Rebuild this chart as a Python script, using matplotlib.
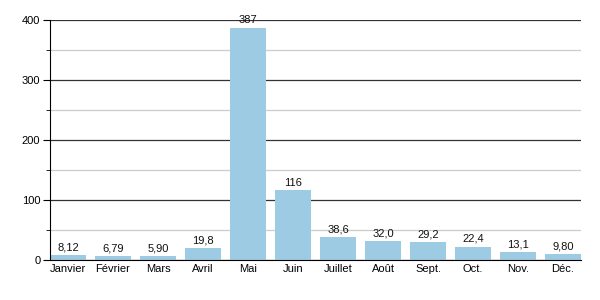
import matplotlib

matplotlib.use("Agg")
import matplotlib.pyplot as plt  # noqa: E402
from matplotlib.ticker import MultipleLocator  # noqa: E402

months = ["Janvier", "Février", "Mars", "Avril", "Mai", "Juin",
          "Juillet", "Août", "Sept.", "Oct.", "Nov.", "Déc."]
values = [8.12, 6.79, 5.90, 19.8, 387, 116, 38.6, 32.0, 29.2, 22.4, 13.1, 9.80]
value_labels = ["8,12", "6,79", "5,90", "19,8", "387", "116",
                "38,6", "32,0", "29,2", "22,4", "13,1", "9,80"]

plt.rcParams["font.family"] = ["Liberation Sans", "DejaVu Sans"]

fig = plt.figure(figsize=(6, 3), dpi=100)
ax = fig.add_axes([50 / 600, 40 / 300, 531 / 600, 240 / 300])

x = list(range(len(months)))
ax.bar(x, values, width=0.8, color="#9dcbe3", zorder=3)
for xi, v, lab in zip(x, values, value_labels):
    ax.annotate(lab, (xi, v), xytext=(0, 2), textcoords="offset points",
                ha="center", va="bottom", fontsize=8, color="#111111", zorder=4)

ax.set_xlim(-0.4, 11.4)
ax.set_ylim(0, 400)
ax.set_xticks(x)
ax.set_xticklabels(months, fontsize=8)
ax.tick_params(axis="x", length=0, pad=3)

ax.yaxis.set_major_locator(MultipleLocator(100))
ax.yaxis.set_minor_locator(MultipleLocator(50))
ax.tick_params(axis="y", which="major", length=5, labelsize=8, pad=2)
ax.tick_params(axis="y", which="minor", length=3)
ax.grid(True, axis="y", which="major", color="#333333", linewidth=0.9, zorder=1)
ax.grid(True, axis="y", which="minor", color="#cccccc", linewidth=0.9, zorder=1)

for side in ("top", "right"):
    ax.spines[side].set_visible(False)
ax.spines["left"].set_color("black")
ax.spines["bottom"].set_color("black")
ax.spines["left"].set_zorder(5)
ax.spines["bottom"].set_zorder(5)

fig.savefig("out.png", dpi=100)
